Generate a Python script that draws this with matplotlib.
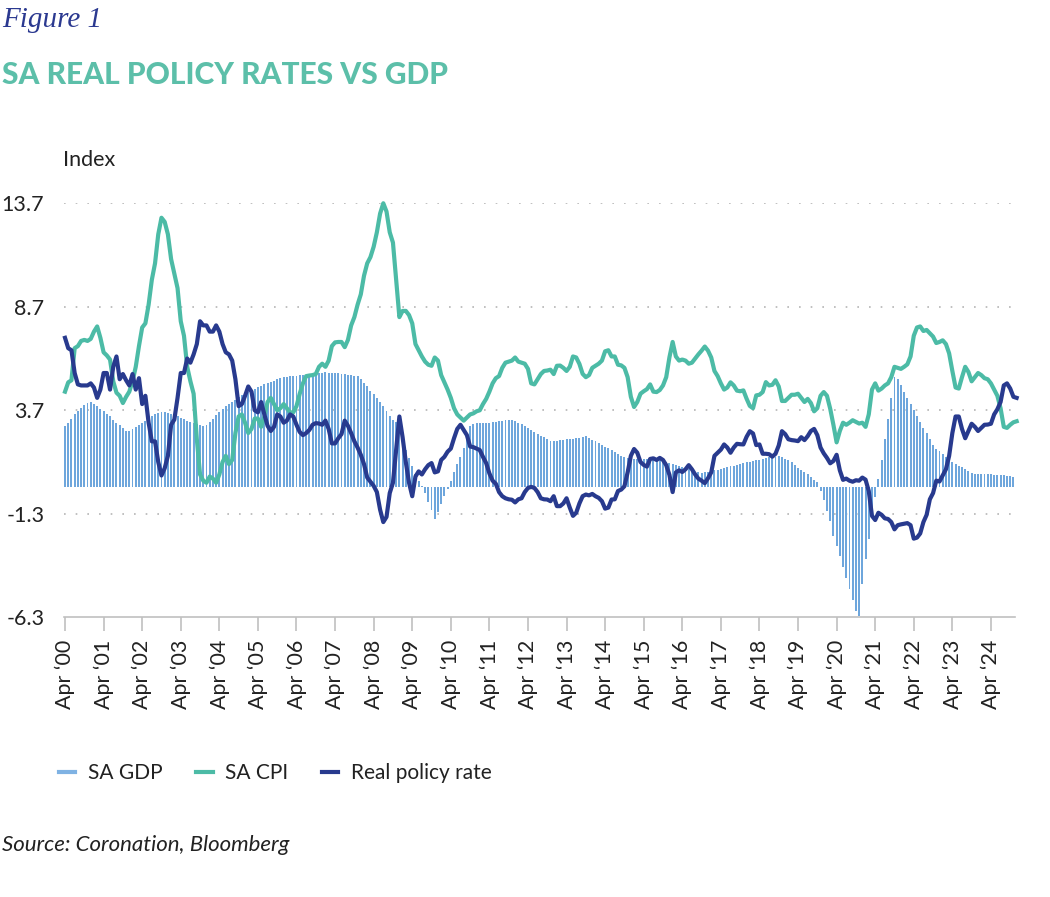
"""SA real policy rates vs GDP (Figure 1)."""

import matplotlib
matplotlib.use("Agg")
import matplotlib.pyplot as plt
from matplotlib.lines import Line2D
import numpy as np

# monthly values, first month = Apr 2000
start_year = 2000
tick_years = list(range(2000, 2025))

sa_cpi = [
    4.6, 5.05, 5.15, 6.7, 6.8, 7.05, 7.1, 7.05, 7.15, 7.5,
    7.75, 7.2, 6.5, 6.35, 6.15, 5.1, 4.55, 4.4, 4.05, 4.35,
    4.6, 5.1, 5.8, 6.8, 7.7, 7.9, 8.8, 10.0, 10.8, 12.2,
    13.0, 12.8, 12.2, 11.0, 10.3, 9.6, 8.0, 7.3, 5.8, 5.1,
    4.5, 2.3, 0.6, 0.3, 0.2, 0.5, 0.4, 0.2, 0.6, 1.2,
    1.5, 1.1, 1.3, 2.6, 3.4, 3.5, 3.1, 2.6, 2.8, 3.3,
    3.3, 2.9, 3.4, 4.1, 4.3, 4.0, 3.7, 3.8, 4.0, 3.8,
    3.6, 3.6, 3.9, 4.5, 5.0, 5.35, 5.38, 5.4, 5.45, 5.8,
    5.95, 5.8, 6.1, 6.8, 6.98, 7.0, 7.0, 6.75, 7.1, 7.8,
    8.2, 8.8, 9.3, 10.2, 10.8, 11.1, 11.6, 12.3, 13.2, 13.7,
    13.3, 12.3, 11.8, 10.0, 8.2, 8.5, 8.5, 8.3, 7.9, 6.9,
    6.6, 6.3, 6.05, 5.9, 5.85, 6.25, 6.1, 5.4, 5.05, 4.7,
    4.3, 3.8, 3.5, 3.35, 3.2, 3.35, 3.5, 3.55, 3.65, 3.7,
    4.0, 4.25, 4.6, 5.0, 5.25, 5.35, 5.75, 6.0, 6.05, 6.1,
    6.25, 6.05, 6.0, 5.95, 5.7, 5.0, 4.95, 5.2, 5.45, 5.6,
    5.62, 5.66, 5.45, 5.85, 5.86, 5.75, 5.6, 5.8, 6.3, 6.25,
    5.94, 5.46, 5.3, 5.4, 5.75, 5.85, 5.95, 6.1, 6.55, 6.6,
    6.3, 6.3, 5.9, 5.87, 5.75, 5.3, 4.35, 3.86, 4.1, 4.5,
    4.62, 4.72, 4.95, 4.6, 4.58, 4.68, 4.9, 5.3, 6.26, 7.0,
    6.3, 6.1, 6.15, 6.1, 5.95, 6.0, 6.2, 6.4, 6.58, 6.78,
    6.58, 6.25, 5.6, 5.35, 5.0, 4.7, 4.8, 5.05, 4.9, 4.65,
    4.62, 4.66, 4.26, 3.91, 3.8, 4.42, 4.45, 4.58, 5.06, 4.9,
    4.93, 5.15, 4.85, 4.15, 4.15, 4.3, 4.45, 4.45, 4.5, 4.3,
    4.1, 4.25, 4.05, 3.65, 3.8, 4.4, 4.58, 4.4, 3.78, 3.0,
    2.15, 2.7, 3.1, 3.0, 3.1, 3.22, 3.14, 3.06, 3.1, 2.9,
    3.5, 4.7, 5.0, 4.65, 4.75, 4.9, 5.0, 5.3, 5.8, 5.75,
    5.7, 5.8, 5.92, 6.3, 7.3, 7.7, 7.75, 7.53, 7.58, 7.42,
    7.26, 6.95, 7.0, 7.08, 6.9, 6.45, 5.6, 4.8, 4.75, 5.3,
    5.8, 5.55, 5.1, 5.3, 5.5, 5.4, 5.25, 5.2, 5.0, 4.7,
    4.4, 3.8, 2.9, 2.85, 3.0, 3.12, 3.17,
]

real_policy_rate = [
    7.2, 6.7, 6.6, 5.5, 4.95, 4.9, 4.9, 4.9, 5.0, 4.8,
    4.3, 4.7, 5.5, 5.5, 4.7, 5.8, 6.3, 5.2, 5.45, 5.15,
    4.9, 5.45, 4.7, 5.25, 4.0, 4.4, 3.1, 2.2, 2.2, 1.2,
    0.55, 0.9, 1.5, 3.0, 3.25, 4.3, 5.5, 5.5, 6.2, 6.0,
    6.4, 6.9, 8.0, 7.8, 7.8, 7.5, 7.5, 7.8, 7.5, 6.9,
    6.5, 6.4, 6.1, 5.2, 3.9, 4.0, 4.4, 4.85, 4.6, 3.7,
    3.6, 4.1, 3.5, 2.95, 2.7, 2.9, 3.5, 3.4, 3.1, 3.2,
    3.5, 3.4, 3.0, 2.65, 2.5, 2.6, 2.75, 3.0, 3.08, 3.06,
    3.0, 3.2, 2.8, 2.1, 2.1, 2.35, 2.55, 3.2, 2.95, 2.6,
    2.2, 1.9, 1.55, 1.1, 0.45, 0.25, 0.05, -0.25, -1.1, -1.7,
    -1.45, -0.3, 0.2, 1.8, 3.4, 2.4, 1.2, 0.2, -0.45, 0.5,
    0.75, 0.6, 0.85, 1.05, 1.15, 0.7, 0.75, 1.3, 1.45, 1.7,
    1.85, 2.35, 2.8, 3.0, 2.75, 2.5, 1.95, 1.92, 1.85, 1.78,
    1.45, 1.15, 0.65, 0.3, 0.15, -0.25, -0.45, -0.55, -0.6, -0.62,
    -0.75, -0.6, -0.55, -0.25, -0.05, 0.0, -0.05, -0.25, -0.55, -0.6,
    -0.61, -0.69, -0.45, -0.93, -0.93, -0.8, -0.55, -1.0, -1.4, -1.25,
    -0.8, -0.45, -0.37, -0.41, -0.34, -0.45, -0.53, -0.69, -1.05, -1.0,
    -0.61, -0.6, -0.2, -0.13, 0.03, 0.7, 1.5, 1.83, 1.65, 1.2,
    1.06, 0.98, 1.35, 1.38, 1.3, 1.4, 1.3, 1.05, 0.58, -0.25,
    0.7, 0.8, 0.72, 0.85, 1.05, 0.85, 0.6, 0.4, 0.3, 0.18,
    0.42, 0.7, 1.5, 1.65, 1.8, 2.05, 1.9, 1.65, 1.9, 2.08,
    2.06, 2.05, 2.42, 2.69, 2.58, 2.02, 2.05, 1.6, 1.6, 1.58,
    1.46, 1.6, 2.0, 2.69, 2.55, 2.3, 2.26, 2.24, 2.21, 2.4,
    2.26, 2.45, 2.7, 2.8, 2.5, 1.9, 1.62, 1.4, 1.14, 1.25,
    1.55, 0.8, 0.34, 0.4, 0.3, 0.25, 0.32, 0.3, 0.45, 0.35,
    -0.2, -1.4, -1.6, -1.25, -1.35, -1.52, -1.55, -1.7, -2.05, -1.85,
    -1.81, -1.78, -1.75, -1.85, -2.5, -2.45, -2.25, -1.7, -1.35, -0.6,
    -0.3, 0.3, 0.26, 0.55, 0.85, 1.5, 2.6, 3.4, 3.4, 2.8,
    2.35, 2.7, 3.05, 2.9, 2.7, 2.85, 3.0, 3.01, 3.05, 3.5,
    3.75, 4.1, 4.9, 5.0, 4.75, 4.35, 4.3,
]

sa_gdp = [
    2.95, 3.1, 3.3, 3.5, 3.65, 3.8, 3.95, 4.05, 4.1, 4.0,
    3.9, 3.75, 3.65, 3.5, 3.4, 3.25, 3.1, 3.0, 2.85, 2.72,
    2.72, 2.8, 2.9, 3.0, 3.1, 3.2, 3.3, 3.4, 3.5, 3.58,
    3.62, 3.62, 3.58, 3.52, 3.45, 3.4, 3.35, 3.28, 3.2, 3.14,
    3.08, 3.04, 3.0, 2.95, 3.0, 3.12, 3.3, 3.45, 3.6, 3.75,
    3.9, 4.02, 4.12, 4.22, 4.32, 4.42, 4.5, 4.6, 4.68, 4.75,
    4.82, 4.88, 4.95, 5.0, 5.05, 5.12, 5.2, 5.25, 5.3, 5.33,
    5.35, 5.36, 5.38, 5.4, 5.42, 5.38, 5.42, 5.46, 5.48, 5.5,
    5.52, 5.54, 5.5, 5.5, 5.49, 5.48, 5.46, 5.43, 5.41, 5.39,
    5.37, 5.34, 5.2, 5.0, 4.85, 4.65, 4.48, 4.3, 4.1, 3.9,
    3.65, 3.4, 3.25, 3.12, 2.8, 2.3, 1.8, 1.4, 1.0, 0.6,
    0.3, 0.05, -0.3, -0.75, -1.1, -1.55, -1.2, -0.85, -0.45, -0.1,
    0.3, 0.7, 1.1, 1.45, 1.9, 2.5, 2.95, 3.05, 3.07, 3.08,
    3.09, 3.09, 3.1, 3.13, 3.15, 3.18, 3.2, 3.22, 3.23, 3.22,
    3.18, 3.1, 3.02, 2.93, 2.85, 2.75, 2.63, 2.55, 2.48, 2.42,
    2.33, 2.2, 2.2, 2.21, 2.25, 2.27, 2.29, 2.29, 2.31, 2.34,
    2.38, 2.42, 2.44, 2.38, 2.28, 2.2, 2.12, 2.03, 1.94, 1.86,
    1.78, 1.68, 1.58, 1.5, 1.42, 1.38, 1.36, 1.35, 1.34, 1.35,
    1.35, 1.35, 1.35, 1.35, 1.32, 1.28, 1.25, 1.21, 1.16, 1.12,
    1.06, 1.0, 0.96, 0.9, 0.85, 0.79, 0.74, 0.7, 0.66, 0.7,
    0.74, 0.8, 0.82, 0.83, 0.86, 0.9, 0.94, 1.0, 1.03, 1.06,
    1.1, 1.14, 1.18, 1.22, 1.26, 1.28, 1.31, 1.34, 1.4, 1.43,
    1.46, 1.46, 1.47, 1.44, 1.36, 1.3, 1.2, 1.06, 0.92, 0.8,
    0.7, 0.6, 0.48, 0.35, 0.25, -0.2, -0.65, -1.15, -1.65, -2.35,
    -2.85, -3.35, -3.85, -4.4, -4.95, -5.45, -6.0, -6.25, -4.7, -3.5,
    -2.5, -1.5, -0.5, 0.4, 1.3, 2.3, 3.3, 4.3, 5.3, 5.2,
    4.9, 4.6, 4.3, 4.0, 3.72, 3.42, 3.12, 2.85, 2.58, 2.3,
    2.0, 1.85, 1.72, 1.58, 1.42, 1.28, 1.18, 1.1, 1.02, 0.95,
    0.85, 0.76, 0.68, 0.63, 0.62, 0.62, 0.62, 0.61, 0.6, 0.59,
    0.59, 0.58, 0.56, 0.55, 0.52, 0.5,
]

y_ticks = [-6.3, -1.3, 3.7, 8.7, 13.7]
tick_labels = [f"Apr \u2018{y % 100:02d}" for y in tick_years]

GDP_COLOR = "#6ea6dc"
CPI_COLOR = "#4cbba6"
RATE_COLOR = "#283a8e"
TEXT_COLOR = "#222222"

plt.rcParams["font.family"] = ["Lato", "DejaVu Sans"]

fig = plt.figure(figsize=(10.5, 8.97), dpi=100)
ax = fig.add_axes([0.0607, 0.3118, 0.9057, 0.4616])

x_gdp = np.arange(len(sa_gdp))
x_line = np.arange(len(sa_cpi))

ax.bar(x_gdp, sa_gdp, width=0.6, color=GDP_COLOR, linewidth=0, zorder=2)
ax.plot(x_line, sa_cpi, color=CPI_COLOR, lw=3, solid_joinstyle="round", zorder=3, clip_on=False)
ax.plot(x_line, real_policy_rate, color=RATE_COLOR, lw=3, solid_joinstyle="round", zorder=4, clip_on=False)

ax.set_xlim(-0.4, 295.4)
ax.set_ylim(-6.3, 13.7)
ax.set_yticks(y_ticks)
ax.set_yticklabels([f"{v:.1f}" for v in y_ticks], fontsize=15.5, color=TEXT_COLOR)
ax.tick_params(axis="y", length=0, pad=14)

ax.set_xticks(np.arange(len(tick_years)) * 12)
ax.set_xticklabels(tick_labels, rotation=90, fontsize=15.5, color=TEXT_COLOR)
ax.tick_params(axis="x", length=10, width=1.2, color="#c0c0c0", pad=6)

for v in y_ticks[1:]:
    ax.axhline(v, color="#b5b5b5", lw=1.2, ls=(0, (1, 6)), zorder=1)

for side in ["top", "right", "left"]:
    ax.spines[side].set_visible(False)
ax.spines["bottom"].set_color("#c0c0c0")
ax.spines["bottom"].set_linewidth(1.2)

fig.text(0.002, 1 - 20 / 897, "Figure 1", family="Liberation Serif", style="italic",
         fontsize=21, color="#2b3990", va="center", ha="left")
fig.text(0.002, 1 - 75 / 897, "SA REAL POLICY RATES VS GDP", fontsize=21.5,
         weight="black", color="#5cbfa9", va="center", ha="left")
fig.text(63 / 1050, 1 - 160 / 897, "Index", fontsize=15.5, color=TEXT_COLOR, va="center")
fig.text(0.002, 1 - 845 / 897, "Source: Coronation, Bloomberg", fontsize=16,
         style="italic", color=TEXT_COLOR, va="center")

handles = [
    Line2D([], [], color="#7fb2e3", lw=3),
    Line2D([], [], color=CPI_COLOR, lw=3),
    Line2D([], [], color=RATE_COLOR, lw=3),
]
fig.legend(handles, ["SA GDP", "SA CPI", "Real policy rate"], loc="center left",
           bbox_to_anchor=(40 / 1050, 1 - 773 / 897), ncol=3, frameon=False,
           fontsize=15, handlelength=0.8, handletextpad=0.6, columnspacing=1.6,
           labelcolor=TEXT_COLOR)

fig.savefig("out.png", dpi=100)
